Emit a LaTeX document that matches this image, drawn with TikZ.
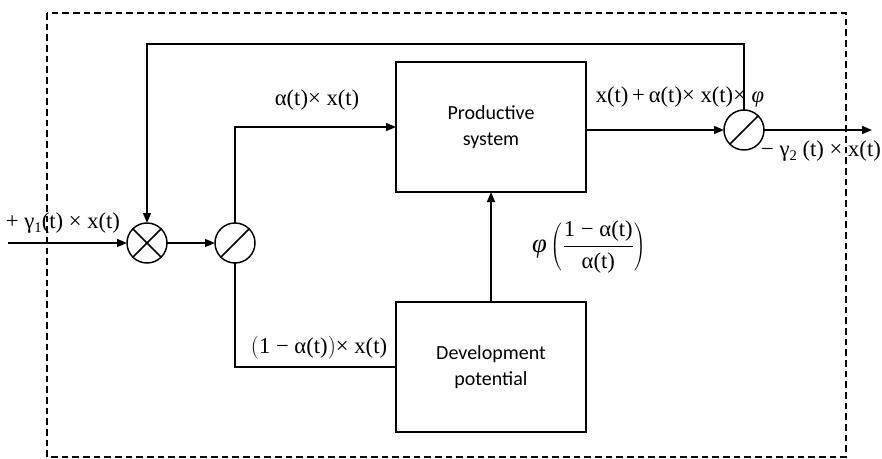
\documentclass[tikz,border=0pt]{standalone}
\usepackage{fontspec}
\setmainfont{Liberation Serif}
\newfontfamily\boxfont{Carlito}
\usetikzlibrary{arrows.meta}
\begin{document}
\begin{tikzpicture}[x=0.75pt,y=-0.75pt,
  line width=1.1pt,
  every node/.style={inner sep=0pt,outer sep=0pt},
  blk/.style={draw,line width=1.1pt,minimum width=142.5pt,minimum height=97.5pt,font=\boxfont\fontsize{15}{19}\selectfont,align=center},
  junc/.style={draw,circle,line width=1.1pt,minimum size=30pt},
  lbl/.style={font=\fontsize{17}{20}\selectfont},
  arr/.style={-{Triangle[length=7.5pt,width=6pt]}},
  frame/.style={line width=0.9pt,dash pattern=on 5pt off 3pt}]
\useasboundingbox (0,0) rectangle (882,458);
\draw[frame] (47,13) rectangle (846,457);
% blocks
\node[blk] (ps) at (491,127) {Productive\\system};
\node[blk] (dp) at (491,367) {Development\\potential};
% junctions
\node[junc] (mul) at (147,243) {};
\draw (mul.north west) -- (mul.south east) (mul.north east) -- (mul.south west);
\node[junc] (div1) at (235,243) {};
\draw (div1.south west) -- (div1.north east);
\node[junc] (div2) at (744,130) {};
\draw (div2.south west) -- (div2.north east);
% free ends
\coordinate (in) at (8,243);
\coordinate (out) at (872,130);
% connectors
\draw[arr] (in) -- (mul);
\draw[arr] (mul) -- (div1);
\draw[arr] (div1.north) |- (ps.west);
\draw (div1.south) |- (dp.west);
\draw[arr] (dp.north) -- (ps.south);
\draw[arr] (ps.east |- div2) -- (div2.west);
\draw[arr] (div2.east) -- (out);
\draw[arr] (div2.north) -- (744,44) -| (mul.north);
% labels
\node[lbl] (l1) at (63,223) {+ γ\raisebox{-0.35ex}{\fontsize{11}{12}\selectfont 1}(t) × x(t)};
\node[lbl] (l2) at (317,100) {α(t)× x(t)};
\node[lbl] (l3) at (680,97) {x(t)\,+\,α(t)× x(t)× \textit{φ}};
\node[lbl] (l4) at (821,151) {− γ\raisebox{-0.35ex}{\fontsize{11}{12}\selectfont 2} (t) × x(t)};
\node[lbl] (l5) at (589,247) {$\displaystyle\mbox{\fontsize{20}{22}\selectfont\textit{φ}}\left(\frac{\mbox{1 − α(t)}}{\mbox{α(t)}}\right)$};
\node[lbl] (l6) at (319,348) {$\Big($1 − α(t)$\Big)$× x(t)};
\end{tikzpicture}
\end{document}
